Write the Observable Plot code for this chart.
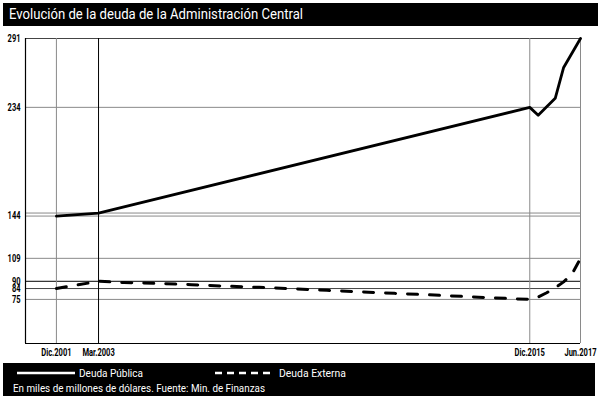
<!DOCTYPE html>
<html><head><meta charset="utf-8">
<script src="https://cdn.jsdelivr.net/npm/d3@7"></script>
<script src="https://cdn.jsdelivr.net/npm/@observablehq/plot@0.6"></script>
<style>
body{margin:0;background:#fff;font-family:Roboto,"DejaVu Sans Condensed",sans-serif;}
#wrap{position:relative;width:599px;height:398px;overflow:hidden;}
#title{position:absolute;left:3px;top:3px;width:595px;height:23px;background:#000;color:#fff;font-size:15px;line-height:23px;box-sizing:border-box;white-space:nowrap;}
#title span{position:absolute;left:6px;top:0;display:inline-block;transform-origin:left center;}
#chart{position:absolute;left:0;top:26px;}
#chart text{font-weight:bold;}
#legend{position:absolute;left:3px;top:363px;width:592px;height:33px;background:#000;color:#fff;font-size:11.5px;}
#legend svg{position:absolute;left:0;top:0;}
.lg{position:absolute;white-space:nowrap;line-height:12px;display:inline-block;transform-origin:left center;}
</style>
</head><body>
<div id="wrap">
  <div id="title"><span id="ttxt">Evolución de la deuda de la Administración Central</span></div>
  <div id="chart"></div>
  <div id="legend">
    <svg width="592" height="33">
      <line x1="14" x2="72" y1="10" y2="10" stroke="#fff" stroke-width="2.5"></line>
      <line x1="212" x2="268" y1="10" y2="10" stroke="#fff" stroke-width="2.5" stroke-dasharray="7,5"></line>
    </svg>
    <div class="lg" id="l1" style="left:76px;top:4px;">Deuda Pública</div>
    <div class="lg" id="l2" style="left:276px;top:4px;">Deuda Externa</div>
    <div class="lg" id="l3" style="left:10px;top:19px;">En miles de millones de dólares. Fuente: Min. de Finanzas</div>
  </div>
</div>
<script>
// Data
const publicaDates = ["2001-12-01","2003-03-01","2015-12-01","2016-03-01","2016-09-01","2016-12-01","2017-06-01"];
const publicaValues = [144, 146.5, 234, 227.5, 241.5, 267, 291];

const externaDates = ["2001-12-01","2003-03-01","2003-12-01","2004-12-01","2005-12-01","2006-12-01","2007-12-01","2008-12-01","2009-12-01","2010-12-01","2011-12-01","2012-12-01","2013-12-01","2014-12-01","2015-12-01","2016-03-01","2016-06-01","2016-09-01","2016-12-01","2017-03-01","2017-06-01"];
const externaValues = [84, 90, 89, 88.2, 87.2, 86, 85, 83.8, 82.5, 81.2, 80, 78.8, 77.5, 76.2, 75, 77, 80.5, 84.6, 89.5, 96, 109];

const tickDates = ["2001-12-01","2003-03-01","2015-12-01","2017-06-01"];
const tickLabels = ["Dic.2001","Mar.2003","Dic.2015","Jun.2017"];
const yTicks = [291, 234, 144, 109, 90, 84, 75];
const yGrid = [291, 234, 146.5, 144, 109, 90, 84, 75];

const xDomain = [new Date("2001-01-01"), new Date("2017-06-01")];
const yDomain = [38.5, 291];

const publica = publicaDates.map((d, i) => ({date: new Date(d), value: publicaValues[i]}));
const externa = externaDates.map((d, i) => ({date: new Date(d), value: externaValues[i]}));
const ticks = tickDates.map(d => new Date(d));

const chart = Plot.plot({
  width: 599,
  height: 335,
  marginTop: 12,
  marginBottom: 18,
  marginLeft: 25,
  marginRight: 19,
  style: {fontFamily: 'Roboto,"DejaVu Sans Condensed",sans-serif', fontSize: "10.5px", color: "#000", background: "#fff"},
  x: {type: "utc", domain: xDomain},
  y: {domain: yDomain},
  marks: [
    Plot.ruleY(yGrid, {stroke: d => d === 90 ? "#000" : (d === 291 || d === 84) ? "#444" : "#8a8a8a", strokeWidth: 1}),
    Plot.ruleX(ticks, {stroke: d => +d === +ticks[1] ? "#000" : "#8a8a8a", strokeWidth: 1}),
    Plot.ruleX([xDomain[0]], {stroke: "#000", strokeWidth: 1.2}),
    Plot.ruleY([yDomain[0]], {stroke: "#000", strokeWidth: 1.2}),
    Plot.line(publica, {x: "date", y: "value", stroke: "#000", strokeWidth: 2.8}),
    Plot.line(externa, {x: "date", y: "value", stroke: "#000", strokeWidth: 3, strokeDasharray: "10,12"}),
    Plot.axisY(yTicks, {tickSize: 0, tickPadding: 5, fontSize: 10, label: null, tickFormat: d => String(d)}),
    Plot.axisX(ticks, {tickSize: 0, tickPadding: 5, label: null, tickFormat: d => tickLabels[ticks.findIndex(t => +t === +d)]})
  ]
});
document.getElementById("chart").appendChild(chart);

// condensed look for tick labels: append a horizontal scale to each label's own transform
function condense(selector, k) {
  chart.querySelectorAll(selector).forEach(t => {
    const tr = t.getAttribute("transform");
    if (tr) {
      t.setAttribute("transform", tr + ` scale(${k},1)`);
    } else {
      const x = +(t.getAttribute("x") || 0), y = +(t.getAttribute("y") || 0);
      t.setAttribute("transform", `translate(${x},${y}) scale(${k},1) translate(${-x},${-y})`);
    }
  });
}
condense('[aria-label="y-axis tick label"] text', 0.75);
condense('[aria-label="x-axis tick label"] text', 0.72);

// fit HTML texts to condensed widths
function fitX(id, target) {
  const el = document.getElementById(id);
  const w = el.getBoundingClientRect().width;
  el.style.transform = `scaleX(${target / w})`;
}
fitX("ttxt", 294);
fitX("l1", 64);
fitX("l2", 67);
fitX("l3", 252);
</script>
</body></html>
